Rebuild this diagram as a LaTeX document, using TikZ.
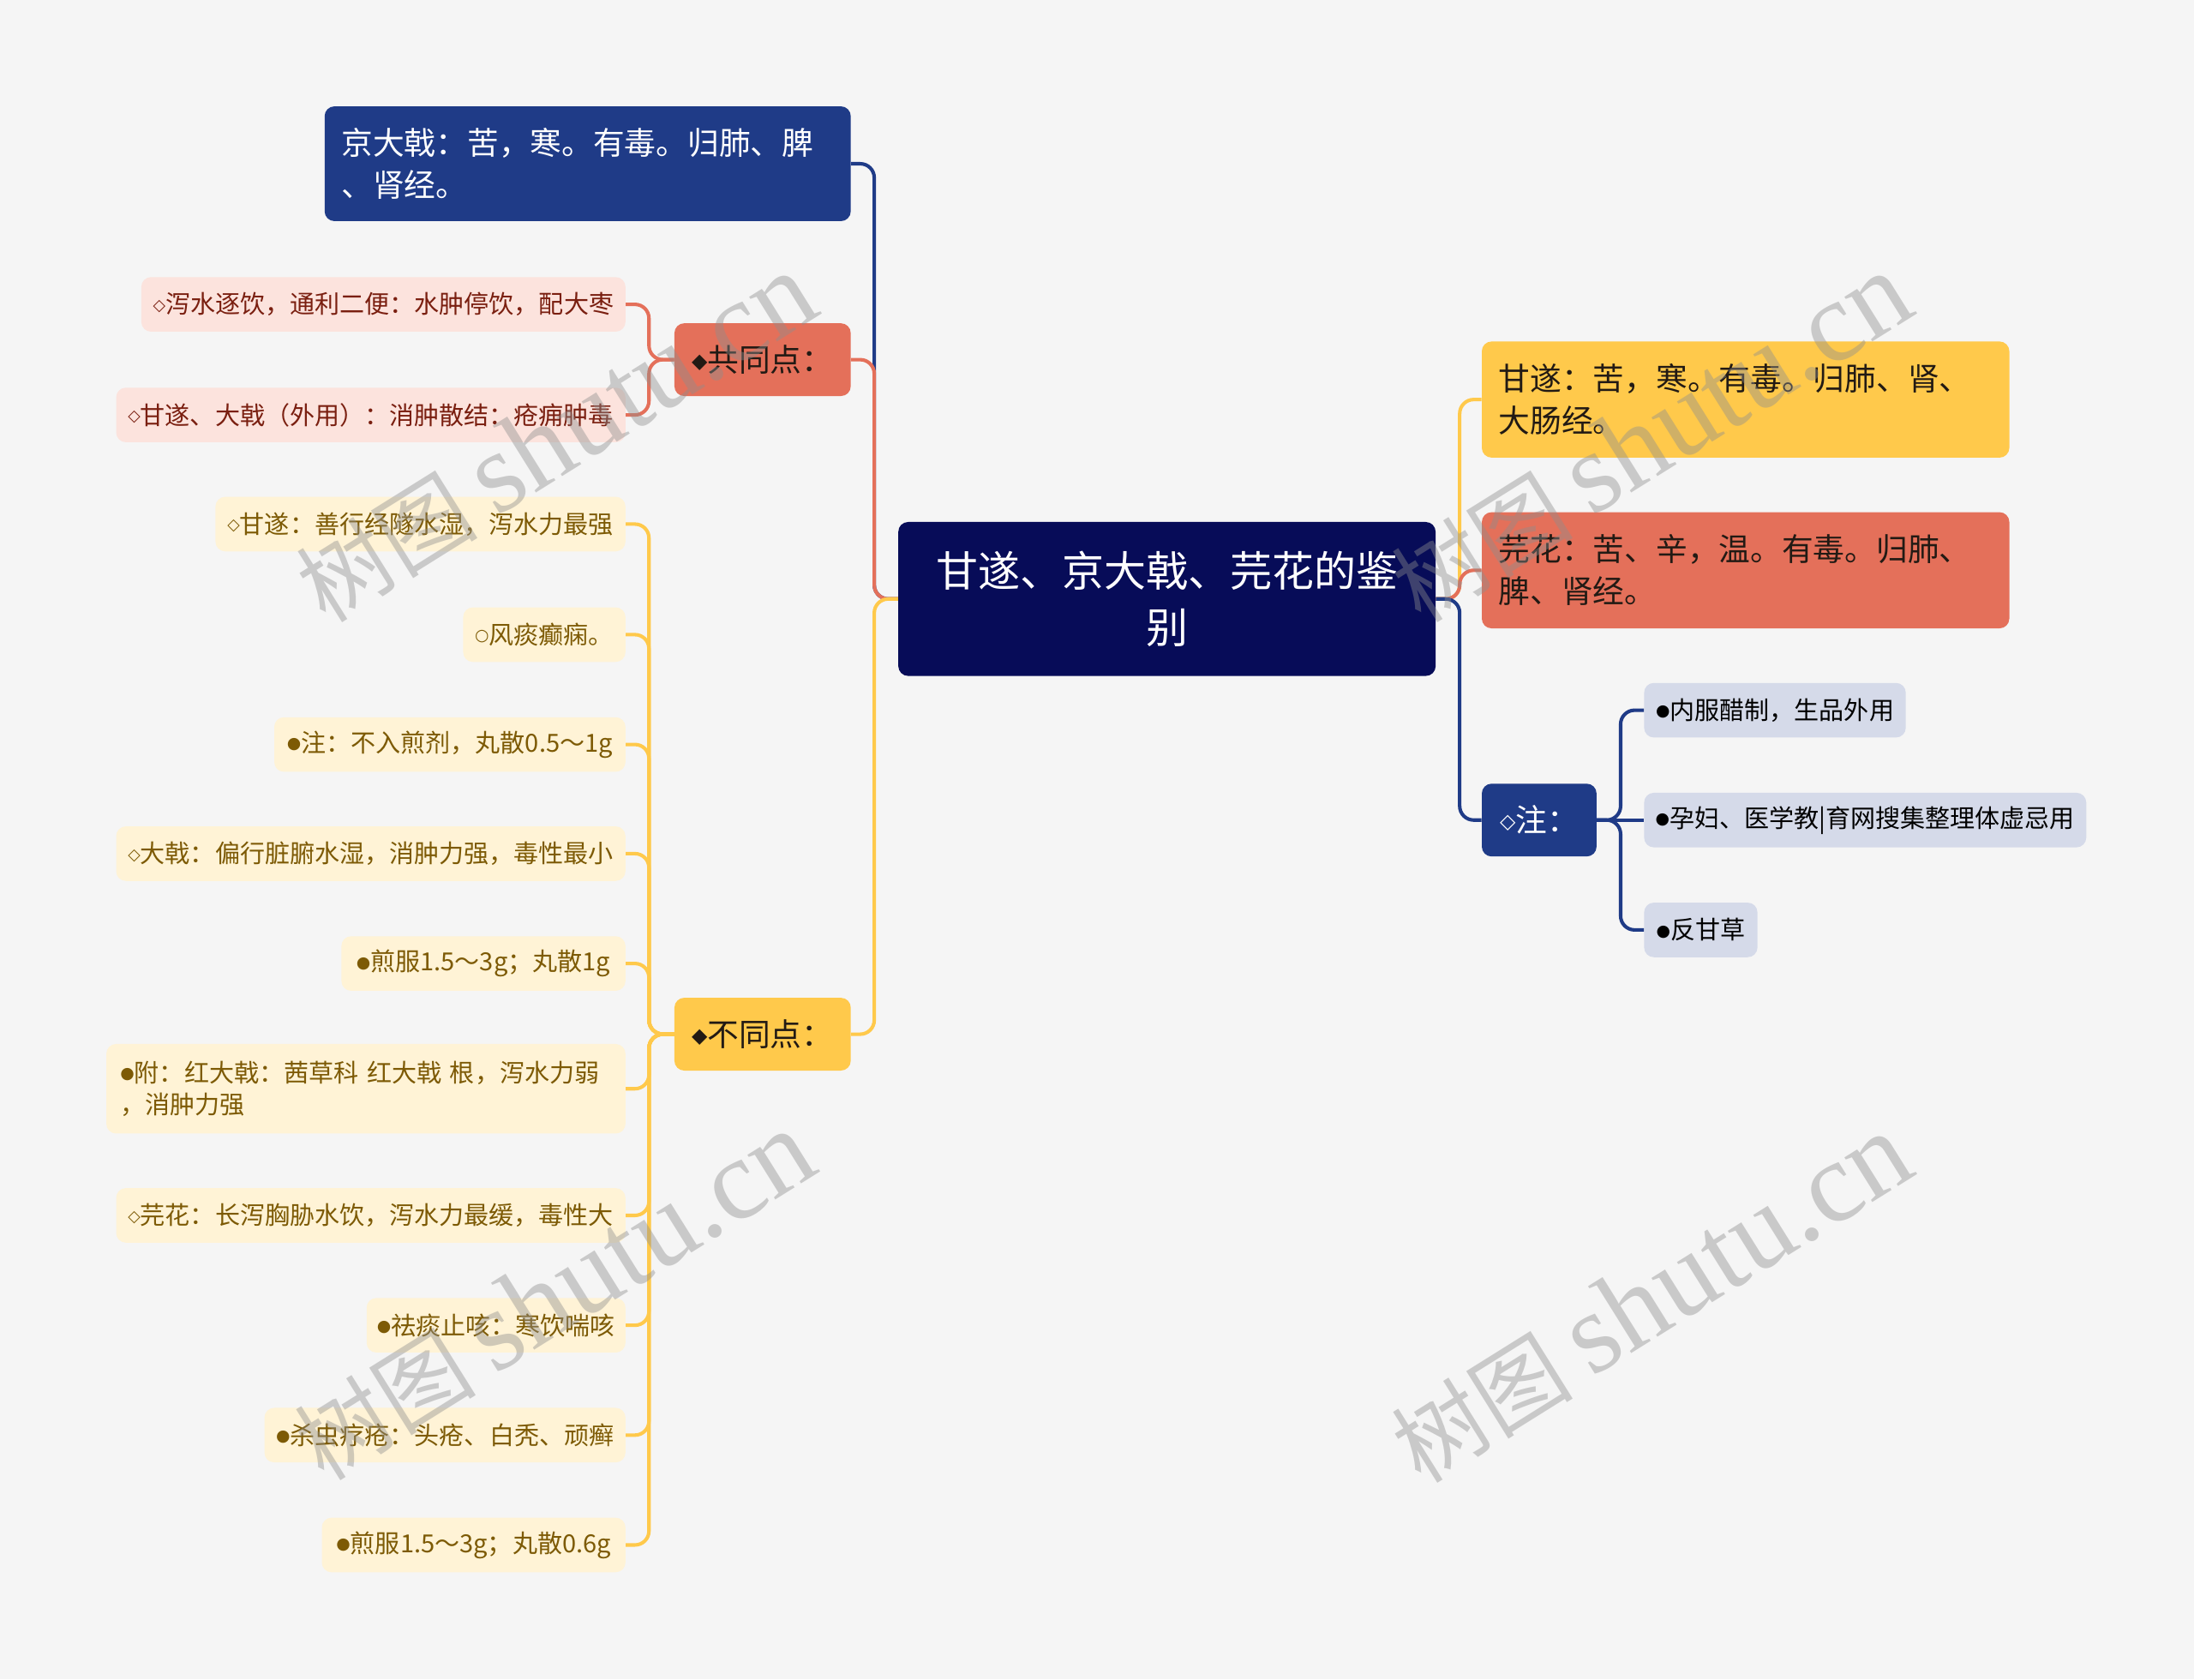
\documentclass[tikz,border=0pt]{standalone}
\usepackage{fontspec}
\usepackage{graphicx}
\newfontfamily\cjk{Noto Sans CJK SC}
\newfontfamily\symf{DejaVu Sans}
\newfontfamily\wmlat{Liberation Serif}
\newcommand\mk[1]{\raisebox{0.12em}{\scalebox{0.65}{\symf #1}}}
\newcommand\wmtext{{\cjk\fontsize{65}{65}\selectfont 树图}\hspace{14pt}{\wmlat\fontsize{82}{82}\selectfont shutu.cn}}
\definecolor{bgc}{HTML}{F5F5F5}
\definecolor{rootc}{HTML}{070C58}
\definecolor{navy}{HTML}{1F3B87}
\definecolor{coral}{HTML}{E4705A}
\definecolor{yel}{HTML}{FFC94B}
\definecolor{pinkl}{HTML}{FCE3DD}
\definecolor{redt}{HTML}{7A1F10}
\definecolor{cream}{HTML}{FFF3D6}
\definecolor{goldt}{HTML}{7D5A05}
\definecolor{greyb}{HTML}{D5DAE9}
\definecolor{darkt}{HTML}{221A14}
\definecolor{wmc}{HTML}{8E8E8E}
\begin{document}
\begin{tikzpicture}[x=1pt,y=-1pt,
  every node/.style={font=\cjk, rounded corners=7pt, inner sep=0pt},
  rootbox/.style={fill=rootc, text=white, align=center, font=\cjk\fontsize{30}{40}\selectfont},
  lone/.style={font=\cjk\fontsize{22.5}{30}\selectfont, minimum height=52pt},
  ltwo/.style={font=\cjk\fontsize{22.5}{30}\selectfont, align=left, minimum height=83pt},
  leaf/.style={font=\cjk\fontsize{17.8}{23}\selectfont, minimum height=39pt},
  pinkleaf/.style={leaf, fill=pinkl, text=redt},
  creamleaf/.style={leaf, fill=cream, text=goldt},
  greyleaf/.style={leaf, fill=greyb, text=black},
  conn/.style={line width=2.5pt, rounded corners=10pt},
  wm/.style={text=wmc, opacity=0.42, rotate=32}
]
\fill[bgc] (0,0) rectangle (1568,1200);
\useasboundingbox (0,0) rectangle (1568,1200);

% root
\node[rootbox, minimum width=384pt, minimum height=110pt] (root) at (834,428) {甘遂、京大戟、芫花的鉴\\别};

% left level 1
\node[ltwo, fill=navy, text=white, minimum width=376pt, minimum height=82pt, text width=352pt] (jdj) at (420,117) {京大戟：苦，寒。有毒。归肺、脾\\、肾经。};
\node[lone, fill=coral, text=darkt, minimum width=126pt] (gtd) at (545,257) {\mk{◆}共同点：};
\node[lone, fill=yel, text=darkt, minimum width=126pt] (btd) at (545,739) {\mk{◆}不同点：};

% common leaves
\node[pinkleaf, minimum width=346pt] (a1) at (274,217.5) {\mk{◇}泻水逐饮，通利二便：水肿停饮，配大枣};
\node[pinkleaf, minimum width=364pt] (a2) at (265,296.5) {\mk{◇}甘遂、大戟（外用）：消肿散结：疮痈肿毒};

% difference leaves
\node[creamleaf, minimum width=293pt] (b1) at (300.5,374.5) {\mk{◇}甘遂：善行经隧水湿，泻水力最强};
\node[creamleaf, minimum width=116pt] (b2) at (389,453.5) {\mk{○}风痰癫痫。};
\node[creamleaf, minimum width=251pt] (b3) at (321.5,532) {\mk{●}注：不入煎剂，丸散0.5～1g};
\node[creamleaf, minimum width=364pt] (b4) at (265,610) {\mk{◇}大戟：偏行脏腑水湿，消肿力强，毒性最小};
\node[creamleaf, minimum width=203pt] (b5) at (345.5,688.5) {\mk{●}煎服1.5～3g；丸散1g};
\node[creamleaf, align=left, minimum width=371pt, minimum height=64pt, text width=351pt] (b6) at (261.5,778) {\mk{●}附：红大戟：茜草科 红大戟 根，泻水力弱\\，消肿力强};
\node[creamleaf, minimum width=364pt] (b7) at (265,868.5) {\mk{◇}芫花：长泻胸胁水饮，泻水力最缓，毒性大};
\node[creamleaf, minimum width=185pt] (b8) at (354.5,947) {\mk{●}祛痰止咳：寒饮喘咳};
\node[creamleaf, minimum width=258pt] (b9) at (318,1025.5) {\mk{●}杀虫疗疮：头疮、白秃、顽癣};
\node[creamleaf, minimum width=217pt] (b10) at (338.5,1104) {\mk{●}煎服1.5～3g；丸散0.6g};

% right level 1
\node[ltwo, fill=yel, text=darkt, minimum width=377pt, text width=353pt] (gs) at (1247.5,285.5) {甘遂：苦，寒。有毒。归肺、肾、\\大肠经。};
\node[ltwo, fill=coral, text=darkt, minimum width=377pt, text width=353pt] (yh) at (1247.5,407.5) {芫花：苦、辛，温。有毒。归肺、\\脾、肾经。};
\node[lone, fill=navy, text=white, minimum width=82pt] (zhu) at (1100,586) {\mk{◇}注：};

% note leaves
\node[greyleaf, minimum width=187pt] (c1) at (1268.5,507.5) {\mk{●}内服醋制，生品外用};
\node[greyleaf, minimum width=316pt] (c2) at (1333,586) {\mk{●}孕妇、医学教|育网搜集整理体虚忌用};
\node[greyleaf, minimum width=81pt] (c3) at (1215.5,664.5) {\mk{●}反甘草};

% connectors root left
\draw[conn, navy] (root.west) -- ++(-17,0) |- (jdj.east);
\draw[conn, coral] (root.west) -- ++(-17,0) |- (gtd.east);
\draw[conn, yel] (root.west) -- ++(-17,0) |- (btd.east);
% root right
\draw[conn, yel] (root.east) -- ++(17,0) |- (gs.west);
\draw[conn, coral] (root.east) -- ++(17,0) |- (yh.west);
\draw[conn, navy] (root.east) -- ++(17,0) |- (zhu.west);
% common
\foreach \n in {a1,a2} \draw[conn, coral] (gtd.west) -- ++(-18,0) |- (\n.east);
% difference
\foreach \n in {b1,b2,b3,b4,b5,b6,b7,b8,b9,b10} \draw[conn, yel] (btd.west) -- ++(-18,0) |- (\n.east);
% notes
\draw[conn, navy] (zhu.east) -- (c2.west);
\foreach \n in {c1,c3} \draw[conn, navy] (zhu.east) -- ++(17,0) |- (\n.west);

% watermarks
\node[wm] (w1) at (397,313) {\wmtext};
\node[wm] (w2) at (396,926) {\wmtext};
\node[wm] (w3) at (1180,313) {\wmtext};
\node[wm] (w4) at (1180,928) {\wmtext};
\end{tikzpicture}
\end{document}
